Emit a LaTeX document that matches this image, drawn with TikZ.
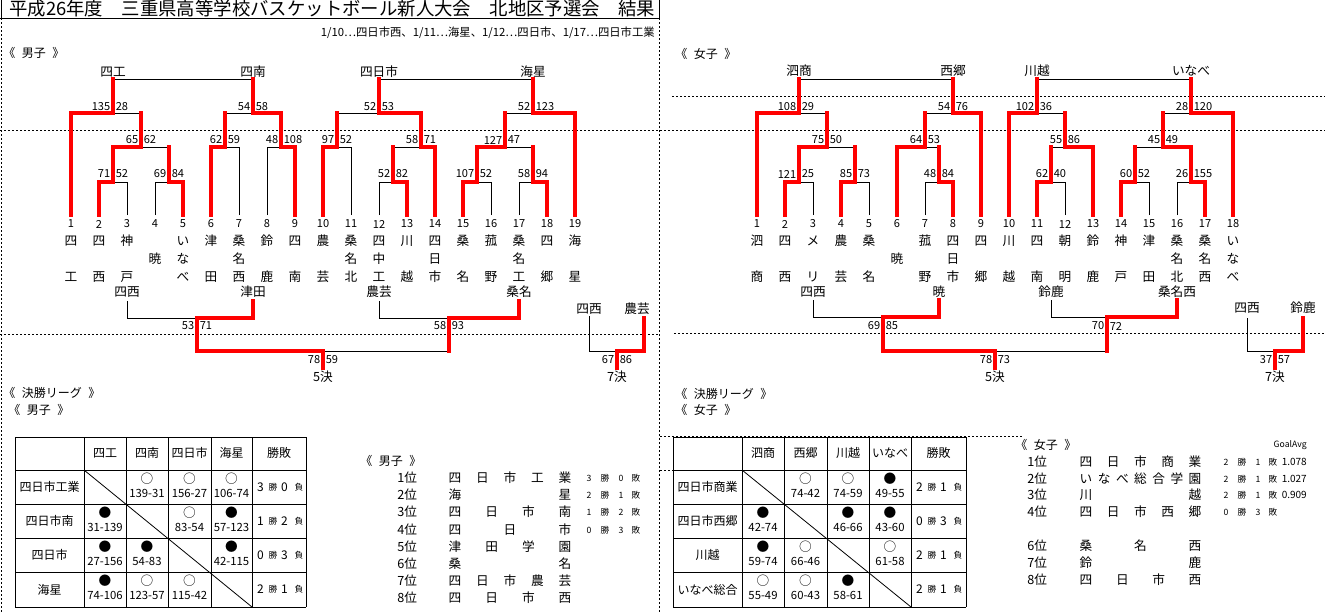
\documentclass[tikz,border=0pt]{standalone}
\usepackage{fontspec}
\setmainfont{Noto Sans CJK JP}
\newcommand\scr[4]{\node[sc,anchor=east] at ({#1-2.5},#2) {#3};\node[sc,anchor=west] at ({#1+2.5},#2) {#4};}
\newcommand\leaf[6]{\node[sc] (#1n#3) at (#2,224) {#3};\node[nm] (#1a#3) at (#2,241) {#4};\node[nm] (#1b#3) at (#2,259) {#5};\node[nm] (#1c#3) at (#2,277) {#6};}
\newcommand\cellres[5]{\node[tsym] at ({(#1+#2)/2},{#3+8.5}) {#4};\node[tsc] at ({(#1+#2)/2},{#3+23.5}) {#5};}
\newcommand\trec[4]{\node[tdig] at ({#1+8.5},#2) {#3};\node[tsm] at ({#1+21},#2) {勝};\node[tdig] at ({#1+32.5},#2) {#4};\node[tsm] at ({#1+47},#2) {負};}
\newcommand\rrec[4]{\node[rs] at (#1,#2) {#3};\node[rs] at ({#1+16},#2) {勝};\node[rs] at ({#1+32},#2) {#4};\node[rs] at ({#1+47},#2) {敗};}
\newcommand\spreadtxt[4]{\foreach \ch [count=\k] in {#4} {\xdef\nn{\k}}%
  \foreach \ch [count=\k from 0] in {#4} {\pgfmathsetmacro\xx{#1+(#2-#1)*\k/(\nn-1)}\node[rk] at (\xx,#3) {\ch};}}
\newcommand\brk[1]{《\hspace{0.55em}#1\hspace{0.55em}》}
\begin{document}
\begin{tikzpicture}[x=0.75pt,y=-0.75pt,
  blk/.style={line width=0.75pt},
  rd/.style={draw=red,line width=2.5pt,line join=miter,line cap=rect},
  dsh/.style={line width=0.7pt,dash pattern=on 1.5pt off 1.5pt},
  nm/.style={inner sep=0,font=\fontsize{9.5}{10}\selectfont},
  sc/.style={inner sep=0,font=\fontsize{8.3}{9}\selectfont},
  hd/.style={inner sep=0,font=\fontsize{9}{10}\selectfont},
  tsym/.style={inner sep=0,font=\fontsize{9.5}{10}\selectfont},
  tsc/.style={inner sep=0,font=\fontsize{8.5}{9}\selectfont},
  tdig/.style={inner sep=0,font=\fontsize{9}{10}\selectfont},
  tsm/.style={inner sep=0,font=\fontsize{6.5}{7}\selectfont},
  rs/.style={inner sep=0,font=\fontsize{6.5}{7}\selectfont},
  rk/.style={inner sep=0,font=\fontsize{9.5}{10}\selectfont}]
\useasboundingbox (0,0) rectangle (1325,612);
\fill[white] (0,0) rectangle (1325,612);
% frame lines
\draw[blk] (0,18)--(660,18);
\draw[blk] (1.5,0)--(1.5,18);
\draw[blk] (659,0)--(659,18);
\draw[dsh] (1.5,18)--(1.5,612);
\draw[dsh] (659,18)--(659,612);
\draw[dsh] (0,130)--(660,130);
\draw[dsh] (0,334)--(660,334);
\draw[dsh] (672,96)--(1325,96);
\draw[dsh] (660,130)--(1325,130);
\draw[dsh] (674,333)--(1325,333);
\draw[dsh] (660,436.5)--(1022,436.5);
\draw[dsh] (660,470)--(673,470);
% titles
\node[anchor=west,inner sep=0,font=\fontsize{13.8}{14}\selectfont] (title) at (9,9) {平成26年度　三重県高等学校バスケットボール新人大会　北地区予選会　結果};
\node[anchor=east,inner sep=0,font=\fontsize{8.5}{9}\selectfont] (dates) at (655,33) {1/10…四日市西、1/11…海星、1/12…四日市、1/17…四日市工業};
\node[hd,anchor=west] (hm) at (3,53) {\brk{男子}};
\node[hd,anchor=west] (hw) at (675,54) {\brk{女子}};
\node[hd,anchor=west] (lgm) at (3,393) {\brk{決勝リーグ}};
\node[hd,anchor=west] (lgm2) at (8,410) {\brk{男子}};
\node[hd,anchor=west] (lgw) at (675,394) {\brk{決勝リーグ}};
\node[hd,anchor=west] (lgw2) at (675,410) {\brk{女子}};

% ===== left bracket (men) =====
\draw[blk] (127,215)--(127,182)--(113,182);
\draw[blk] (155,215)--(155,182)--(169,182);
\draw[blk] (141,147)--(169,147);
\draw[blk] (113,113)--(141,113);
\draw[blk] (239,215)--(239,147)--(225,147);
\draw[blk] (267,215)--(267,147)--(281,147);
\draw[blk] (225,113)--(253,113);
\draw[blk] (351,215)--(351,147)--(337,147);
\draw[blk] (379,215)--(379,182)--(393,182);
\draw[blk] (393,147)--(421,147);
\draw[blk] (337,113)--(379,113);
\draw[blk] (491,215)--(491,182)--(477,182);
\draw[blk] (519,215)--(519,182)--(533,182);
\draw[blk] (505,147)--(533,147);
\draw[blk] (505,113)--(533,113);
\draw[blk] (113,79)--(253,79);
\draw[blk] (379,79)--(533,79);
\draw[rd] (71,215)--(71,113)--(113,113)--(113,79);
\draw[rd] (99,215)--(99,182)--(113,182)--(113,147)--(141,147)--(141,113);
\draw[rd] (183,215)--(183,182)--(169,182)--(169,147);
\draw[rd] (211,215)--(211,147)--(225,147)--(225,113);
\draw[rd] (295,215)--(295,147)--(281,147)--(281,113)--(253,113)--(253,79);
\draw[rd] (323,215)--(323,147)--(337,147)--(337,113);
\draw[rd] (407,215)--(407,182)--(393,182)--(393,147);
\draw[rd] (435,215)--(435,147)--(421,147)--(421,113)--(379,113)--(379,79);
\draw[rd] (463,215)--(463,182)--(477,182)--(477,147)--(505,147)--(505,113);
\draw[rd] (547,215)--(547,182)--(533,182)--(533,147);
\draw[rd] (575,215)--(575,113)--(533,113)--(533,79);
\scr{113}{174}{71}{52}\scr{169}{174}{69}{84}\scr{393}{174}{52}{82}\scr{477}{174}{107}{52}\scr{533}{174}{58}{94}
\scr{141}{140}{65}{62}\scr{225}{140}{62}{59}\scr{281}{140}{48}{108}\scr{337}{140}{97}{52}\scr{421}{140}{58}{71}\scr{505}{140}{127}{47}
\scr{113}{106.5}{135}{28}\scr{253}{106.5}{54}{58}\scr{379}{106.5}{52}{53}\scr{533}{106.5}{52}{123}
\node[nm] (mt1) at (113,72) {四工};
\node[nm] (mt2) at (253,72) {四南};
\node[nm] (mt3) at (379,72) {四日市};
\node[nm] (mt4) at (533,72) {海星};
\leaf{m}{71}{1}{四}{}{工}
\leaf{m}{99}{2}{四}{}{西}
\leaf{m}{127}{3}{神}{}{戸}
\leaf{m}{155}{4}{}{暁}{}
\leaf{m}{183}{5}{い}{な}{べ}
\leaf{m}{211}{6}{津}{}{田}
\leaf{m}{239}{7}{桑}{名}{西}
\leaf{m}{267}{8}{鈴}{}{鹿}
\leaf{m}{295}{9}{四}{}{南}
\leaf{m}{323}{10}{農}{}{芸}
\leaf{m}{351}{11}{桑}{名}{北}
\leaf{m}{379}{12}{四}{中}{工}
\leaf{m}{407}{13}{川}{}{越}
\leaf{m}{435}{14}{四}{日}{市}
\leaf{m}{463}{15}{桑}{}{名}
\leaf{m}{491}{16}{菰}{}{野}
\leaf{m}{519}{17}{桑}{名}{工}
\leaf{m}{547}{18}{四}{}{郷}
\leaf{m}{575}{19}{海}{}{星}
% placement men
\node[nm] (mp1) at (127,292) {四西};
\node[nm] (mp2) at (253,292) {津田};
\node[nm] (mp3) at (379,292) {農芸};
\node[nm] (mp4) at (519,292) {桑名};
\draw[blk] (127,301)--(127,318)--(197,318);
\draw[blk] (379,301)--(379,318)--(449,318);
\draw[blk] (449,351)--(323,351);
\draw[rd] (253,301)--(253,318)--(197,318)--(197,351)--(323,351)--(323,368);
\draw[rd] (519,301)--(519,318)--(449,318)--(449,351);
\scr{197}{326}{53}{71}\scr{449}{326}{58}{93}\scr{323}{360}{78}{59}
\node[nm] (m5) at (323,377) {5決};
\node[nm] (mp5) at (589,309) {四西};
\node[nm] (mp6) at (637,309) {農芸};
\draw[blk] (589,316)--(589,351)--(617,351);
\draw[rd] (644,318)--(644,351)--(617,351)--(617,368);
\scr{617}{360}{67}{86}
\node[nm] (m7) at (617,377) {7決};

% ===== right bracket (women) =====
\draw[blk] (813,215)--(813,182)--(799,182);
\draw[blk] (869,215)--(869,182)--(855,182);
\draw[blk] (827,147)--(855,147);
\draw[blk] (799,113)--(827,113);
\draw[blk] (925,215)--(925,182)--(939,182);
\draw[blk] (925,147)--(939,147);
\draw[blk] (925,113)--(953,113);
\draw[blk] (1037,113)--(1065,113);
\draw[blk] (1065,215)--(1065,182)--(1051,182);
\draw[blk] (1051,147)--(1065,147);
\draw[blk] (1149,215)--(1149,182)--(1135,182);
\draw[blk] (1135,147)--(1163,147);
\draw[blk] (1177,215)--(1177,182)--(1191,182);
\draw[blk] (1163,113)--(1191,113);
\draw[blk] (799,79)--(953,79);
\draw[blk] (1037,79)--(1191,79);
\draw[rd] (757,215)--(757,113)--(799,113)--(799,79);
\draw[rd] (785,215)--(785,182)--(799,182)--(799,147)--(827,147)--(827,113);
\draw[rd] (841,215)--(841,182)--(855,182)--(855,147);
\draw[rd] (897,215)--(897,147)--(925,147)--(925,113);
\draw[rd] (953,215)--(953,182)--(939,182)--(939,147);
\draw[rd] (981,215)--(981,113)--(953,113)--(953,79);
\draw[rd] (1009,215)--(1009,113)--(1037,113)--(1037,79);
\draw[rd] (1037,215)--(1037,182)--(1051,182)--(1051,147);
\draw[rd] (1093,215)--(1093,147)--(1065,147)--(1065,113);
\draw[rd] (1121,215)--(1121,182)--(1135,182)--(1135,147);
\draw[rd] (1205,215)--(1205,182)--(1191,182)--(1191,147)--(1163,147)--(1163,113);
\draw[rd] (1233,215)--(1233,113)--(1191,113)--(1191,79);
\scr{799}{174}{121}{25}\scr{855}{174}{85}{73}\scr{939}{174}{48}{84}\scr{1051}{174}{62}{40}\scr{1135}{174}{60}{52}\scr{1191}{174}{26}{155}
\scr{827}{140}{75}{50}\scr{925}{140}{64}{53}\scr{1065}{140}{55}{86}\scr{1163}{140}{45}{49}
\scr{799}{106.5}{108}{29}\scr{953}{106.5}{54}{76}\scr{1037}{106.5}{102}{36}\scr{1191}{106.5}{28}{120}
\node[nm] (wt1) at (799,71) {泗商};
\node[nm] (wt2) at (953,71) {西郷};
\node[nm] (wt3) at (1037,71) {川越};
\node[nm] (wt4) at (1191,71) {いなべ};
\leaf{w}{757}{1}{泗}{}{商}
\leaf{w}{785}{2}{四}{}{西}
\leaf{w}{813}{3}{メ}{}{リ}
\leaf{w}{841}{4}{農}{}{芸}
\leaf{w}{869}{5}{桑}{}{名}
\leaf{w}{897}{6}{}{暁}{}
\leaf{w}{925}{7}{菰}{}{野}
\leaf{w}{953}{8}{四}{日}{市}
\leaf{w}{981}{9}{四}{}{郷}
\leaf{w}{1009}{10}{川}{}{越}
\leaf{w}{1037}{11}{四}{}{南}
\leaf{w}{1065}{12}{朝}{}{明}
\leaf{w}{1093}{13}{鈴}{}{鹿}
\leaf{w}{1121}{14}{神}{}{戸}
\leaf{w}{1149}{15}{津}{}{田}
\leaf{w}{1177}{16}{桑}{名}{北}
\leaf{w}{1205}{17}{桑}{名}{西}
\leaf{w}{1233}{18}{い}{な}{べ}
% placement women
\node[nm] (wp1) at (813,292) {四西};
\node[nm] (wp2) at (939,292) {暁};
\node[nm] (wp3) at (1051,292) {鈴鹿};
\node[nm] (wp4) at (1177,292) {桑名西};
\draw[blk] (813,300)--(813,317)--(883,317);
\draw[blk] (1051,300)--(1051,317)--(1107,317);
\draw[blk] (1107,351)--(995,351);
\draw[rd] (939,300)--(939,317)--(883,317)--(883,351)--(995,351)--(995,368);
\draw[rd] (1177,300)--(1177,317)--(1107,317)--(1107,351);
\scr{883}{326}{69}{85}\scr{1107}{326}{70}{72}\scr{995}{360}{78}{73}
\node[nm] (w5) at (995,377) {5決};
\node[nm] (wp5) at (1247,308) {四西};
\node[nm] (wp6) at (1303,308) {鈴鹿};
\draw[blk] (1247,318)--(1247,351)--(1275,351);
\draw[rd] (1303,318)--(1303,351)--(1275,351)--(1275,368);
\scr{1275}{360}{37}{57}
\node[nm] (w7) at (1275,377) {7決};

% ===== league table men =====
\fill[white] (15,437) rectangle (306,607);
\foreach \xx in {15,84,126,168,211,252,306} \draw[blk] (\xx,437)--(\xx,607);
\foreach \yy in {437,470,504,538,572,607} \draw[blk] (15,\yy)--(306,\yy);
\draw[line width=0.6pt] (84,470)--(252,607);
\node[hd] at (105,453) {四工};
\node[hd] at (147,453) {四南};
\node[hd] at (189.5,453) {四日市};
\node[hd] at (231.5,453) {海星};
\node[hd] at (279,453) {勝敗};
\node[hd] at (49.5,487) {四日市工業};
\node[hd] at (49.5,521) {四日市南};
\node[hd] at (49.5,555) {四日市};
\node[hd] at (49.5,589.5) {海星};
\cellres{126}{168}{470}{○}{139-31}\cellres{168}{211}{470}{○}{156-27}\cellres{211}{252}{470}{○}{106-74}
\cellres{84}{126}{504}{●}{31-139}\cellres{168}{211}{504}{○}{83-54}\cellres{211}{252}{504}{●}{57-123}
\cellres{84}{126}{538}{●}{27-156}\cellres{126}{168}{538}{●}{54-83}\cellres{211}{252}{538}{●}{42-115}
\cellres{84}{126}{572}{●}{74-106}\cellres{126}{168}{572}{○}{123-57}\cellres{168}{211}{572}{○}{115-42}
\trec{252}{487}{3}{0}\trec{252}{521}{1}{2}\trec{252}{555}{0}{3}\trec{252}{589.5}{2}{1}

% ===== league table women =====
\fill[white] (673,437) rectangle (966,607);
\foreach \xx in {673,742,784,827,869,911,966} \draw[blk] (\xx,437)--(\xx,607);
\foreach \yy in {437,470,504,538,572,607} \draw[blk] (673,\yy)--(966,\yy);
\draw[line width=0.6pt] (742,470)--(911,607);
\node[hd] at (763,453) {泗商};
\node[hd] at (805.5,453) {西郷};
\node[hd] at (848,453) {川越};
\node[hd] at (890,453) {いなべ};
\node[hd] at (938.5,453) {勝敗};
\node[hd] at (707.5,487) {四日市商業};
\node[hd] at (707.5,521) {四日市西郷};
\node[hd] at (707.5,555) {川越};
\node[hd] at (707.5,589.5) {いなべ総合};
\cellres{784}{827}{470}{○}{74-42}\cellres{827}{869}{470}{○}{74-59}\cellres{869}{911}{470}{●}{49-55}
\cellres{742}{784}{504}{●}{42-74}\cellres{827}{869}{504}{●}{46-66}\cellres{869}{911}{504}{●}{43-60}
\cellres{742}{784}{538}{●}{59-74}\cellres{784}{827}{538}{○}{66-46}\cellres{869}{911}{538}{○}{61-58}
\cellres{742}{784}{572}{○}{55-49}\cellres{784}{827}{572}{○}{60-43}\cellres{827}{869}{572}{●}{58-61}
\trec{911}{487}{2}{1}\trec{911}{521}{0}{3}\trec{911}{555}{2}{1}\trec{911}{589.5}{2}{1}

% ===== ranking men =====
\node[hd,anchor=west] (rkm) at (360,461) {\brk{男子}};
\foreach \r/\yy in {1/478,2/495,3/512,4/530,5/547,6/564,7/581,8/598} \node[rk,anchor=west] at (397,\yy) {\r 位};
\spreadtxt{455}{565}{478}{四,日,市,工,業}
\spreadtxt{455}{565}{495}{海,星}
\spreadtxt{455}{565}{512}{四,日,市,南}
\spreadtxt{455}{565}{530}{四,日,市}
\spreadtxt{455}{565}{547}{津,田,学,園}
\spreadtxt{455}{565}{564}{桑,名}
\spreadtxt{455}{565}{581}{四,日,市,農,芸}
\spreadtxt{455}{565}{598}{四,日,市,西}
\rrec{589}{478}{3}{0}\rrec{589}{495}{2}{1}\rrec{589}{512}{1}{2}\rrec{589}{530}{0}{3}

% ===== ranking women =====
\node[hd,anchor=west] (rkw) at (1015,445) {\brk{女子}};
\node[rs,anchor=east] (ga) at (1307,445) {GoalAvg};
\foreach \r/\yy in {1/462,2/479,3/495,4/512,6/546,7/563,8/580} \node[rk,anchor=west] at (1027,\yy) {\r 位};
\spreadtxt{1086}{1195}{462}{四,日,市,商,業}
\spreadtxt{1086}{1195}{479}{い,な,べ,総,合,学,園}
\spreadtxt{1086}{1195}{495}{川,越}
\spreadtxt{1086}{1195}{512}{四,日,市,西,郷}
\spreadtxt{1086}{1195}{546}{桑,名,西}
\spreadtxt{1086}{1195}{563}{鈴,鹿}
\spreadtxt{1086}{1195}{580}{四,日,市,西}
\rrec{1226}{462}{2}{1}\rrec{1226}{479}{2}{1}\rrec{1226}{495}{2}{1}\rrec{1226}{512}{0}{3}
\node[rs,anchor=east,font=\fontsize{7.5}{8}\selectfont] at (1307,462) {1.078};
\node[rs,anchor=east,font=\fontsize{7.5}{8}\selectfont] at (1307,479) {1.027};
\node[rs,anchor=east,font=\fontsize{7.5}{8}\selectfont] at (1307,495) {0.909};
\end{tikzpicture}
\end{document}
